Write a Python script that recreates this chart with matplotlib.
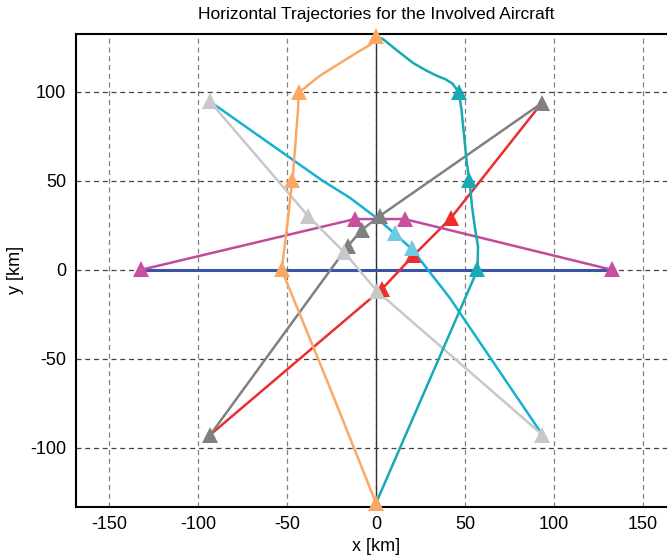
import matplotlib.pyplot as plt

plt.rcParams['font.family'] = ['Liberation Sans', 'DejaVu Sans']
plt.rcParams['axes.unicode_minus'] = False

# Trajectoires (x, y en km) et positions des marqueurs
bleu_x = [-132, 132]
bleu_y = [0, 0]

magenta_x = [-132, -12, 2, 16, 132.5]
magenta_y = [0, 28.5, 28.5, 28.5, 0]
magenta_mx = [-132, -12, 16, 132.5]
magenta_my = [0.5, 28.5, 28.5, 0.5]

rouge_x = [-93, 3.4, 21, 42, 93]
rouge_y = [-92.5, -10.7, 8, 29, 93.5]
rouge_mx = [3.4, 21, 42]
rouge_my = [-10.7, 8.5, 29]

gris_x = [-93, -15.7, -7.9, 2.2, 93]
gris_y = [-92.5, 13.5, 22.5, 30.3, 93.5]

gris_clair_x = [-93.3, -38, -18, 0.6, 93.5]
gris_clair_y = [94.5, 30, 10, -12, -92.7]

cyan_x = [-93.3, -30, -14.6, 0.5, 10.8, 20, 41.6, 93.5]
cyan_y = [94.5, 50, 40.4, 29, 20, 11.8, -16, -92.7]
cyan_mx = [10.8, 20]
cyan_my = [20.5, 12]

turquoise_x = [0, 4, 12, 21, 28, 34, 39, 43, 46.6, 48, 49.5, 51, 52.5, 54, 55.5, 57.3, 57, 30, 0]
turquoise_y = [131, 129.5, 123, 116, 112, 109, 107, 104.5, 99.4, 90, 75, 60, 50, 35, 24, 13, 0, -62, -131]
turquoise_mx = [46.6, 52.5, 57]
turquoise_my = [99.8, 50.5, 0.5]

orange_x = [0, -26, -50.7, -53, -51, -49.4, -48, -47, -46.6, -45.5, -44.6, -43.8, -43.5,
            -31.5, -16.3, -9, -3, 0]
orange_y = [-131, -66, -5.6, 0, 16, 29, 42, 50, 54, 68, 80, 90, 99.4,
            109, 118.5, 123, 126.5, 131]
orange_mx = [0, -53, -47.3, -43.5, 0]
orange_my = [-131, 0.5, 50.5, 99.8, 131]

xticks = [-150, -100, -50, 0, 50, 100, 150]
yticks = [-100, -50, 0, 50, 100]

fig = plt.figure(figsize=(6.67, 5.57), dpi=100)
ax = fig.add_axes([0.1135, 0.0903, 0.9005, 0.849])
ax.set_xlim(-168.7, 168.7)
ax.set_ylim(-133, 132.5)

# Grille en tirets
for x in xticks:
    ax.axvline(x, color='#808080', lw=0.9, ls=(0, (4, 3)), zorder=0)
for y in yticks:
    ax.axhline(y, color='#444444', lw=0.9, ls=(0, (4, 3)), zorder=0)
ax.axvline(0, color='#333333', lw=1.0, zorder=1)

lw = 1.8
ax.plot(bleu_x, bleu_y, color='#3a53a4', lw=2.2, zorder=2)
ax.plot(rouge_x, rouge_y, color='#ee2c2c', lw=lw, zorder=2)
ax.plot(gris_x, gris_y, color='#808080', lw=lw, zorder=2)
ax.plot(magenta_x, magenta_y, color='#c04a9c', lw=lw, zorder=2)
ax.plot(cyan_x, cyan_y, color='#14b1d2', lw=lw, zorder=2)
ax.plot(gris_clair_x, gris_clair_y, color='#c8c8c8', lw=lw, zorder=2)
ax.plot(turquoise_x, turquoise_y, color='#17aab4', lw=lw, zorder=2)
ax.plot(orange_x, orange_y, color='#f9a965', lw=lw, zorder=2)

ms = 11
kw = dict(ls='none', marker='^', ms=ms, mew=0, clip_on=False)
ax.plot(magenta_mx, magenta_my, color='#c9509f', zorder=3, **kw)
ax.plot(rouge_mx, rouge_my, color='#ee2c2c', zorder=3, **kw)
ax.plot(gris_x, gris_y, color='#808080', zorder=4, **kw)
ax.plot(gris_clair_x, gris_clair_y, color='#c8c8c8', zorder=4, **kw)
ax.plot(cyan_mx, cyan_my, color='#6ccbe0', zorder=5, **kw)
ax.plot(turquoise_mx, turquoise_my, color='#17aab4', zorder=5, **kw)
ax.plot(orange_mx, orange_my, color='#f9a965', zorder=6, **kw)

ax.set_xticks(xticks)
ax.set_yticks(yticks)
ax.tick_params(length=0, labelsize=13, pad=7)
for s in ax.spines.values():
    s.set_linewidth(1.5)

ax.set_xlabel('x [km]', fontsize=13, labelpad=3)
ax.set_ylabel('y [km]', fontsize=13, labelpad=4)
ax.set_title('Horizontal Trajectories for the Involved Aircraft', fontsize=12.5, pad=11)

fig.savefig('out.png', dpi=100)
